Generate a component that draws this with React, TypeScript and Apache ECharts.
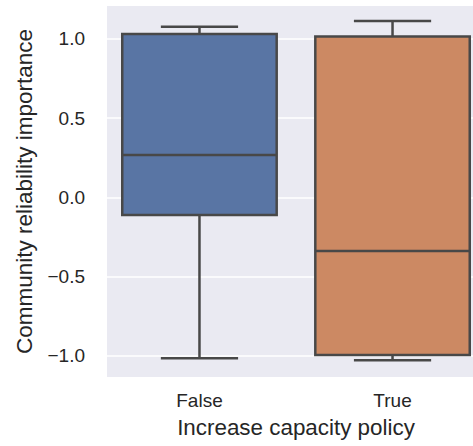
import React, { useEffect, useRef } from "react";
import * as echarts from "echarts";

const categories = ["False", "True"];
const lowerWhisker = [-1.016, -1.029];
const q1 = [-0.112, -0.995];
const median = [0.267, -0.339];
const q3 = [1.03, 1.014];
const upperWhisker = [1.076, 1.112];
const boxColors = ["#5975A4", "#CC8963"];
const yTicks = [-1, -0.5, 0, 0.5, 1];

const FONT = "'Liberation Sans', Arial, sans-serif";
const EDGE = "#484848";

export default function App() {
  const ref = useRef<HTMLDivElement>(null);
  useEffect(() => {
    if (!ref.current) return;
    const chart = echarts.init(ref.current, null, { renderer: "svg" });
    const data = categories.map((c, i) => [
      i,
      lowerWhisker[i],
      q1[i],
      median[i],
      q3[i],
      upperWhisker[i],
    ]);
    chart.setOption({
      animation: false,
      backgroundColor: "#ffffff",
      grid: {
        left: 107,
        right: 15,
        top: 6,
        bottom: 69,
        show: true,
        backgroundColor: "#EAEAF2",
        borderWidth: 0,
      },
      xAxis: {
        type: "value",
        min: -0.479,
        max: 1.479,
        name: "Increase capacity policy",
        nameLocation: "middle",
        nameGap: 39,
        nameTextStyle: { fontSize: 22.4, color: "#262626", fontFamily: FONT },
        axisLine: { show: false },
        axisTick: { show: false, customValues: [0, 1] },
        splitLine: { show: false },
        axisLabel: {
          customValues: [0, 1],
          formatter: (v: number) => categories[Math.round(v)] ?? "",
          fontSize: 19,
          color: "#262626",
          fontFamily: FONT,
          margin: 14,
        },
      },
      yAxis: {
        type: "value",
        min: -1.134,
        max: 1.207,
        name: "Community reliability importance",
        nameLocation: "middle",
        nameGap: 71,
        nameTextStyle: { fontSize: 22.5, color: "#262626", fontFamily: FONT },
        axisLine: { show: false },
        axisTick: { show: false, customValues: yTicks },
        splitLine: {
          show: true,
          customValues: yTicks,
          lineStyle: { color: "#ffffff", width: 1.5 },
        },
        axisLabel: {
          customValues: yTicks,
          formatter: (v: number) =>
            (v < 0 ? "\u2212" : "") + Math.abs(v).toFixed(1),
          fontSize: 19,
          color: "#262626",
          fontFamily: FONT,
          margin: 22,
        },
      },
      series: [
        {
          type: "custom",
          data,
          encode: { x: 0, y: [1, 2, 3, 4, 5] },
          renderItem: (params: any, api: any) => {
            const x = api.value(0);
            const idx = params.dataIndex;
            const cx = api.coord([x, 0])[0];
            const yLow = api.coord([x, api.value(1)])[1];
            const yQ1 = api.coord([x, api.value(2)])[1];
            const yMed = api.coord([x, api.value(3)])[1];
            const yQ3 = api.coord([x, api.value(4)])[1];
            const yHigh = api.coord([x, api.value(5)])[1];
            const bw = api.size([0.8, 0])[0];
            const cw = bw / 2;
            const lw = 2.5;
            const line = (x1: number, y1: number, x2: number, y2: number) => ({
              type: "line",
              shape: { x1, y1, x2, y2 },
              style: { stroke: EDGE, lineWidth: lw },
            });
            return {
              type: "group",
              children: [
                line(cx, yQ3, cx, yHigh),
                line(cx, yQ1, cx, yLow),
                line(cx - cw / 2, yHigh, cx + cw / 2, yHigh),
                line(cx - cw / 2, yLow, cx + cw / 2, yLow),
                {
                  type: "rect",
                  shape: { x: cx - bw / 2, y: yQ3, width: bw, height: yQ1 - yQ3 },
                  style: { fill: boxColors[idx], stroke: EDGE, lineWidth: lw },
                },
                line(cx - bw / 2, yMed, cx + bw / 2, yMed),
              ],
            };
          },
        },
      ],
    });
    return () => chart.dispose();
  }, []);
  return (
    <div
      style={{
        position: "fixed",
        left: 0,
        top: 0,
        width: 473,
        height: 446,
        overflow: "hidden",
        background: "#ffffff",
      }}
    >
      <div ref={ref} style={{ width: 500, height: 446 }} />
    </div>
  );
}
